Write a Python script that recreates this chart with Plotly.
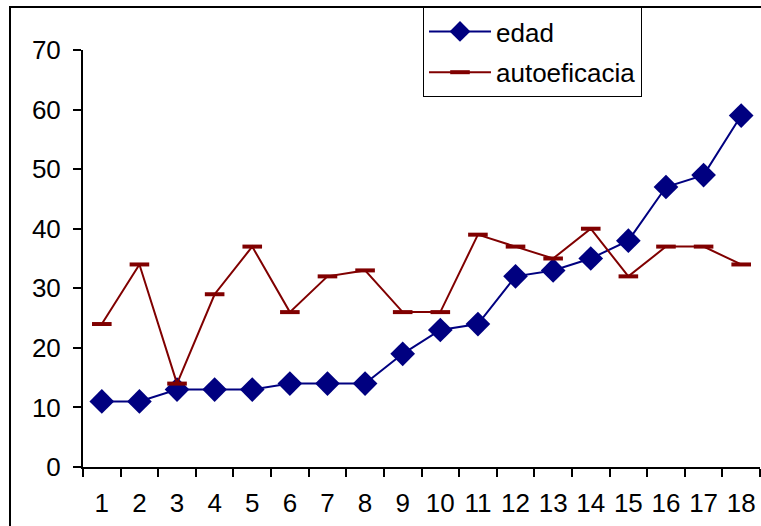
import plotly.graph_objects as go

categories = [str(i) for i in range(1, 19)]
edad = [11, 11, 13, 13, 13, 14, 14, 14, 19, 23, 24, 32, 33, 35, 38, 47, 49, 59]
autoeficacia = [24, 34, 14, 29, 37, 26, 32, 33, 26, 26, 39, 37, 35, 40, 32, 37, 37, 34]

FONT = "Liberation Sans, Arial, sans-serif"

fig = go.Figure()
fig.add_trace(go.Scatter(
    x=categories, y=edad, name="edad", mode="lines+markers",
    legendgroup="a",
    line=dict(color="#000080", width=2),
    marker=dict(symbol="diamond", size=19, color="#000080"),
    cliponaxis=False,
))
fig.add_trace(go.Scatter(
    x=categories, y=autoeficacia, name="autoeficacia", mode="lines+markers",
    legendgroup="b",
    line=dict(color="#800000", width=2),
    marker=dict(symbol="line-ew", size=14, color="#800000",
                line=dict(color="#800000", width=4)),
    cliponaxis=False,
))

W, H = 761, 526
L, R, T, B = 83, 1, 50, 59
pw, ph = W - L - R, H - T - B

def px_x(x):
    return (x - L) / pw

def px_y(y):
    return (H - B - y) / ph

fig.update_layout(
    width=W, height=H,
    margin=dict(l=L, r=R, t=T, b=B, autoexpand=False),
    paper_bgcolor="white", plot_bgcolor="white",
    font=dict(family=FONT, size=26, color="black"),
    showlegend=True,
    legend=dict(
        x=px_x(423), y=px_y(7), xanchor="left", yanchor="top",
        bordercolor="black", borderwidth=1, bgcolor="white",
        font=dict(size=26), itemwidth=62, tracegroupgap=4,
    ),
    xaxis=dict(
        type="category", range=[-0.5, 17.5],
        showline=True, linecolor="black", linewidth=2,
        ticks="outside", ticklen=8, tickwidth=2, tickcolor="black",
        tickson="boundaries", showgrid=False, zeroline=False,
        tickangle=0, automargin=False,
        ticklabelstandoff=12,
    ),
    yaxis=dict(
        range=[0, 70], dtick=10,
        showline=True, linecolor="black", linewidth=2,
        ticks="outside", ticklen=8, tickwidth=2, tickcolor="black",
        showgrid=False, zeroline=False, automargin=False,
        ticklabelstandoff=7,
    ),
    shapes=[dict(
        type="rect", xref="paper", yref="paper",
        x0=px_x(10), x1=px_x(775), y0=px_y(540), y1=px_y(7),
        line=dict(color="black", width=2), layer="below",
    )],
)

fig.write_html("out.html")
